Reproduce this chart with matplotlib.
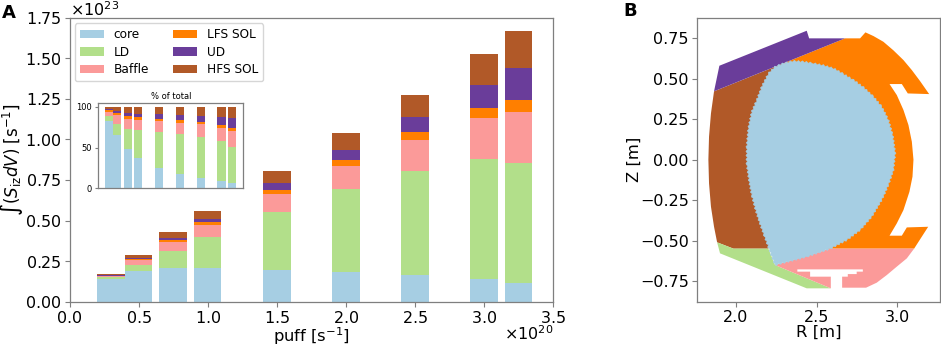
import numpy as np
import matplotlib
matplotlib.use("Agg")
import matplotlib.pyplot as plt
from matplotlib.patches import Polygon
from matplotlib.transforms import Affine2D

# ---------- Panel A data (cumulative tops, units 1e23 s^-1) ----------
puff = [0.3, 0.5, 0.75, 1.0, 1.5, 2.0, 2.5, 3.0, 3.25]
region_names = ["core", "LD", "Baffle", "LFS SOL", "UD", "HFS SOL"]
top_core = [0.138, 0.189, 0.208, 0.208, 0.197, 0.181, 0.162, 0.138, 0.113]
top_ld = [0.150, 0.228, 0.314, 0.399, 0.555, 0.693, 0.806, 0.880, 0.855]
top_baffle = [0.158, 0.259, 0.366, 0.470, 0.662, 0.838, 0.999, 1.134, 1.169]
top_lfs = [0.161, 0.266, 0.380, 0.489, 0.688, 0.873, 1.044, 1.194, 1.241]
top_ud = [0.163, 0.272, 0.395, 0.510, 0.730, 0.937, 1.138, 1.338, 1.437]
top_hfs = [0.168, 0.288, 0.430, 0.561, 0.804, 1.040, 1.276, 1.529, 1.669]
colors = ["#a6cee3", "#b2df8a", "#fb9a99", "#ff7f00", "#6a3d9a", "#b15928"]
bar_width = 0.2

# ---------- Panel B data (R, Z in m) ----------
ud_R = [1.899, 2.439, 2.454, 2.676, 1.866]
ud_Z = [0.580, 0.796, 0.749, 0.749, 0.422]
lfs_R = [2.30, 2.676, 2.769, 2.802, 2.852, 2.913, 2.975, 3.037, 3.089, 3.140, 3.196, 3.064, 3.027, 2.951,
         2.996, 3.037, 3.068, 3.089, 3.099, 3.093, 3.074, 3.037, 2.996, 2.951,
         3.027, 3.058, 3.190, 3.103, 2.45, 2.60]
lfs_Z = [0.597, 0.749, 0.749, 0.786, 0.763, 0.728, 0.675, 0.615, 0.553, 0.485, 0.405, 0.409, 0.467, 0.467,
         0.399, 0.307, 0.214, 0.111, 0.0, -0.105, -0.198, -0.311, -0.393, -0.469,
         -0.469, -0.418, -0.414, -0.549, -0.549, 0.0]
hfs_R = [1.866, 1.847, 1.835, 1.831, 1.835, 1.847, 1.866, 1.885, 1.986, 2.202, 2.40, 2.30]
hfs_Z = [0.422, 0.286, 0.142, 0.0, -0.146, -0.290, -0.414, -0.510, -0.549, -0.549, 0.0, 0.597]
ld_R = [1.885, 1.903, 2.439, 2.588, 2.243, 2.202, 1.986]
ld_Z = [-0.510, -0.578, -0.794, -0.794, -0.650, -0.549, -0.549]
baffle_R = [2.243, 2.584, 3.103, 3.058, 2.996, 2.934, 2.872, 2.806, 2.658, 2.658, 2.693, 2.693, 2.748, 2.748,
            2.786, 2.786, 2.381, 2.381, 2.460, 2.460, 2.588, 2.588]
baffle_Z = [-0.650, -0.549, -0.549, -0.609, -0.660, -0.712, -0.759, -0.790, -0.790, -0.722, -0.722, -0.706,
            -0.706, -0.691, -0.691, -0.677, -0.677, -0.691, -0.691, -0.722, -0.722, -0.794]
core_R = [2.243, 2.202, 2.175, 2.146, 2.120, 2.099, 2.082, 2.068, 2.068, 2.078, 2.099, 2.130, 2.161, 2.202,
          2.243, 2.295, 2.357, 2.419, 2.480, 2.542, 2.604, 2.666, 2.728, 2.790, 2.852, 2.903, 2.944, 2.971,
          2.986, 2.975, 2.944, 2.903, 2.841, 2.769, 2.687, 2.584, 2.439]
core_Z = [-0.650, -0.539, -0.465, -0.383, -0.300, -0.218, -0.126, -0.023, 0.080, 0.193, 0.296, 0.368, 0.451, 0.533,
          0.574, 0.595, 0.609, 0.605, 0.595, 0.582, 0.564, 0.529, 0.492, 0.447, 0.389, 0.327, 0.245, 0.152,
          0.039, -0.064, -0.156, -0.249, -0.352, -0.434, -0.496, -0.549, -0.599]

SPINE = "#7f7f7f"
W, H = 941, 346
plt.rcParams["font.family"] = "DejaVu Sans"
plt.rcParams["mathtext.fontset"] = "dejavusans"


def pos(l, t, r, b):
    return [l / W, 1 - b / H, (r - l) / W, (b - t) / H]


def style(ax, size=11.5, length=3.5):
    for s in ax.spines.values():
        s.set_color(SPINE)
        s.set_linewidth(0.9)
    ax.tick_params(labelsize=size, color=SPINE, length=length, width=0.8, pad=2.5)


fig = plt.figure(figsize=(W / 100, H / 100), dpi=100)

tops = np.array([top_core, top_ld, top_baffle, top_lfs, top_ud, top_hfs])
bottoms = np.vstack([np.zeros(len(puff)), tops[:-1]])
x = np.array(puff)

# Panel A
ax = fig.add_axes(pos(69.5, 17.7, 553, 301.7))
for i, name in enumerate(region_names):
    ax.bar(x * 1e20, (tops[i] - bottoms[i]) * 1e23, bar_width * 1e20, bottom=bottoms[i] * 1e23,
           color=colors[i], label=name, linewidth=0)
ax.set_xlim(0, 3.5e20)
ax.set_ylim(0, 1.75e23)
ax.set_xticks(np.arange(0, 3.51, 0.5) * 1e20)
ax.set_yticks(np.arange(0, 1.76, 0.25) * 1e23)
ax.ticklabel_format(style="sci", axis="both", scilimits=(0, 0), useMathText=True)
off = ax.xaxis.get_offset_text()
off.set_fontsize(11.5)
off.set_va("center")
off.set_transform(off.get_transform() + Affine2D().translate(0, -3))
off_y = ax.yaxis.get_offset_text()
off_y.set_fontsize(11.5)
off_y.set_transform(off_y.get_transform() + Affine2D().translate(0, -2))
ax.set_xlabel(r"puff [s$^{-1}$]", fontsize=11.8)
ax.xaxis.set_label_coords(0.5, -0.083)
ax.set_ylabel(r"$\int(S_{\mathrm{iz}}dV)$ [s$^{-1}$]", fontsize=12)
ax.yaxis.set_label_coords(-0.092, 0.5)
style(ax)
ax.legend(loc="upper left", ncol=2, fontsize=8.7, bbox_to_anchor=(0.0, 1.0), borderaxespad=0.45,
          labelspacing=0.39)

# Inset
ins = fig.add_axes(pos(98.3, 102.7, 243.3, 188.3))
pct_tops = tops / tops[-1] * 100
pct_bottoms = bottoms / tops[-1] * 100
for i in range(len(region_names)):
    ins.bar(x, pct_tops[i] - pct_bottoms[i], bar_width, bottom=pct_bottoms[i], color=colors[i], linewidth=0)
ins.set_xlim(0.044, 3.52)
ins.set_ylim(0, 105)
ins.set_xticks([])
ins.set_yticks([0, 50, 100])
style(ins, size=6, length=2)
ins.set_title("% of total", fontsize=6, pad=3)

# Panel B
axb = fig.add_axes(pos(697.3, 17.7, 939.5, 301.7))
outlines = [(hfs_R, hfs_Z, colors[5]), (lfs_R, lfs_Z, colors[3]), (ud_R, ud_Z, colors[4]),
            (ld_R, ld_Z, colors[1]), (baffle_R, baffle_Z, colors[2])]
for rr, zz, c in outlines:
    axb.add_patch(Polygon(np.column_stack([rr, zz]), closed=True, facecolor=c, edgecolor="none"))
core = Polygon(np.column_stack([core_R, core_Z]), closed=True, facecolor=colors[0], edgecolor=colors[0], linewidth=0.4)
core.set_sketch_params(scale=0.8, length=4, randomness=1)
axb.add_patch(core)
axb.set_xlim(1.7625, 3.26)
axb.set_ylim(-0.8765, 0.8765)
axb.set_xticks([2.0, 2.5, 3.0])
axb.set_yticks([-0.75, -0.5, -0.25, 0, 0.25, 0.5, 0.75])
axb.set_yticklabels(["\u22120.75", "\u22120.50", "\u22120.25", "0.00", "0.25", "0.50", "0.75"])
axb.set_xlabel("R [m]", fontsize=11.8)
axb.xaxis.set_label_coords(0.5, -0.083)
axb.set_ylabel("Z [m]", fontsize=11.8)
axb.yaxis.set_label_coords(-0.23, 0.5)
style(axb)

fig.text(2 / W, 1 - 17.5 / H, "A", fontsize=13, fontweight="bold")
fig.text(623 / W, 1 - 16 / H, "B", fontsize=13, fontweight="bold")

fig.savefig("out.png", dpi=100)
